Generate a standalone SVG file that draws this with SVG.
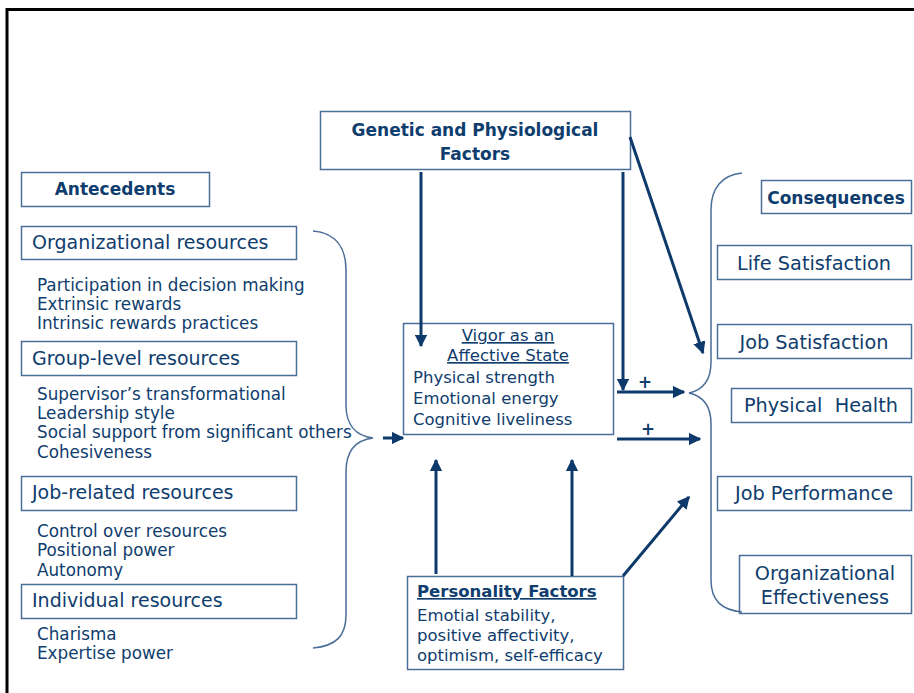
<svg xmlns="http://www.w3.org/2000/svg" width="914" height="693" viewBox="0 0 914 693">
  <style>
    text { font-family: "Comic Sans MS", "DejaVu Sans", sans-serif; fill: #0f3d6d; }
    .box { fill: #ffffff; stroke: #4a6e97; stroke-width: 1.5; }
    .head { font-size: 17px; font-weight: bold; }
    .cat { font-size: 19px; }
    .item { font-size: 16.8px; }
    .mid { font-size: 16.5px; }
    .cons { font-size: 19.3px; text-anchor: middle; }
    .ctr { text-anchor: middle; }
    .ul { text-decoration: underline; }
    .arrow { stroke: #0d3a6a; stroke-width: 3; fill: none; marker-end: url(#head); }
    .brace { stroke: #4a6e97; stroke-width: 1.5; fill: none; }
  </style>
  <defs>
    <marker id="head" viewBox="0 0 10 10" refX="9" refY="5" markerWidth="4.2" markerHeight="4.2" orient="auto" markerUnits="strokeWidth">
      <path d="M0,0 L10,5 L0,10 z" fill="#0d3a6a"/>
    </marker>
  </defs>

  <!-- page frame -->
  <path d="M7,693 V9.5 H914" fill="none" stroke="#000" stroke-width="3"/>

  <g id="genetic">
    <rect class="box" x="320.5" y="111.5" width="310" height="58"/>
    <text x="475" y="136" class="head ctr" font-size="18">Genetic and Physiological</text>
    <text x="475" y="160" class="head ctr" font-size="18">Factors</text>
  </g>

  <g id="antecedents">
    <rect class="box" x="21.5" y="172.5" width="188" height="34"/>
    <text x="115" y="195" class="head ctr">Antecedents</text>
  </g>

  <g id="organizational">
    <rect class="box" x="21.5" y="226.5" width="275" height="33"/>
    <text x="32" y="249" class="cat">Organizational resources</text>
    <text x="37" y="291" class="item">Participation in decision making</text>
    <text x="37" y="310" class="item">Extrinsic rewards</text>
    <text x="37" y="329" class="item">Intrinsic rewards practices</text>
  </g>

  <g id="group-level">
    <rect class="box" x="21.5" y="341.5" width="275" height="34"/>
    <text x="32" y="365" class="cat">Group-level resources</text>
    <text x="37" y="400" class="item">Supervisor’s transformational</text>
    <text x="37" y="419" class="item">Leadership style</text>
    <text x="37" y="438" class="item">Social support from significant others</text>
    <text x="37" y="458" class="item">Cohesiveness</text>
  </g>

  <g id="job-related">
    <rect class="box" x="21.5" y="476.5" width="275" height="34"/>
    <text x="32" y="499" class="cat">Job-related resources</text>
    <text x="37" y="537" class="item">Control over resources</text>
    <text x="37" y="556" class="item">Positional power</text>
    <text x="37" y="576" class="item">Autonomy</text>
  </g>

  <g id="individual">
    <rect class="box" x="21.5" y="584.5" width="275" height="34"/>
    <text x="32" y="607" class="cat">Individual resources</text>
    <text x="37" y="640" class="item">Charisma</text>
    <text x="37" y="659" class="item">Expertise power</text>
  </g>

  <g id="vigor">
    <rect class="box" x="403.5" y="323.5" width="210" height="111"/>
    <text x="508" y="341" class="mid ctr ul">Vigor as an</text>
    <text x="508" y="361" class="mid ctr ul">Affective State</text>
    <text x="413" y="383" class="mid">Physical strength</text>
    <text x="413" y="404" class="mid">Emotional energy</text>
    <text x="413" y="425" class="mid">Cognitive liveliness</text>
  </g>

  <g id="personality">
    <rect class="box" x="407.5" y="576.5" width="216" height="93"/>
    <text x="417" y="597" class="mid ul" font-weight="bold">Personality Factors</text>
    <text x="417" y="621" class="mid">Emotial stability,</text>
    <text x="417" y="641" class="mid">positive affectivity,</text>
    <text x="417" y="661" class="mid">optimism, self-efficacy</text>
  </g>

  <g id="consequences">
    <rect class="box" x="761.5" y="180.5" width="150" height="33"/>
    <text x="836" y="204" class="head ctr">Consequences</text>
  </g>

  <g id="life-satisfaction">
    <rect class="box" x="717.5" y="245.5" width="194" height="34"/>
    <text x="814" y="270" class="cons">Life Satisfaction</text>
  </g>

  <g id="job-satisfaction">
    <rect class="box" x="717.5" y="324.5" width="194" height="34"/>
    <text x="814" y="349" class="cons">Job Satisfaction</text>
  </g>

  <g id="physical-health">
    <rect class="box" x="731.5" y="388.5" width="180" height="34"/>
    <text x="821" y="412" class="cons" xml:space="preserve">Physical  Health</text>
  </g>

  <g id="job-performance">
    <rect class="box" x="717.5" y="476.5" width="194" height="34"/>
    <text x="814" y="500" class="cons">Job Performance</text>
  </g>

  <g id="org-effectiveness">
    <rect class="box" x="739.5" y="555.5" width="172" height="58"/>
    <text x="825" y="580" class="cons">Organizational</text>
    <text x="825" y="604" class="cons">Effectiveness</text>
  </g>

  <!-- connectors: braces grouping the resources and outcomes, plus the causal arrows -->
  <g id="connectors">
    <path class="brace" d="M313,231 C336,233 346,248 346,270 V405 C346,425 356,436 373,438 C356,440 346,451 346,472 V615 C346,636 336,646 313,648"/>
    <path class="brace" d="M742,173 C722,175 711,188 711,210 V362 C711,381 703,390 689,393 C703,396 711,405 711,424 V580 C711,601 722,610 742,612"/>
    <line class="arrow" x1="383" y1="438" x2="403" y2="438"/>
    <line class="arrow" x1="421" y1="172" x2="421" y2="346"/>
    <line class="arrow" x1="623" y1="172" x2="623" y2="390"/>
    <line class="arrow" x1="630" y1="137" x2="703" y2="353"/>
    <line class="arrow" x1="617" y1="392" x2="684" y2="392"/>
    <line class="arrow" x1="617" y1="439" x2="700" y2="439"/>
    <line class="arrow" x1="436" y1="574" x2="436" y2="460"/>
    <line class="arrow" x1="572" y1="576" x2="572" y2="460"/>
    <line class="arrow" x1="623" y1="576" x2="689" y2="497"/>
    <text x="645" y="388" class="item ctr" font-weight="bold">+</text>
    <text x="648" y="435" class="item ctr" font-weight="bold">+</text>
  </g>
</svg>
